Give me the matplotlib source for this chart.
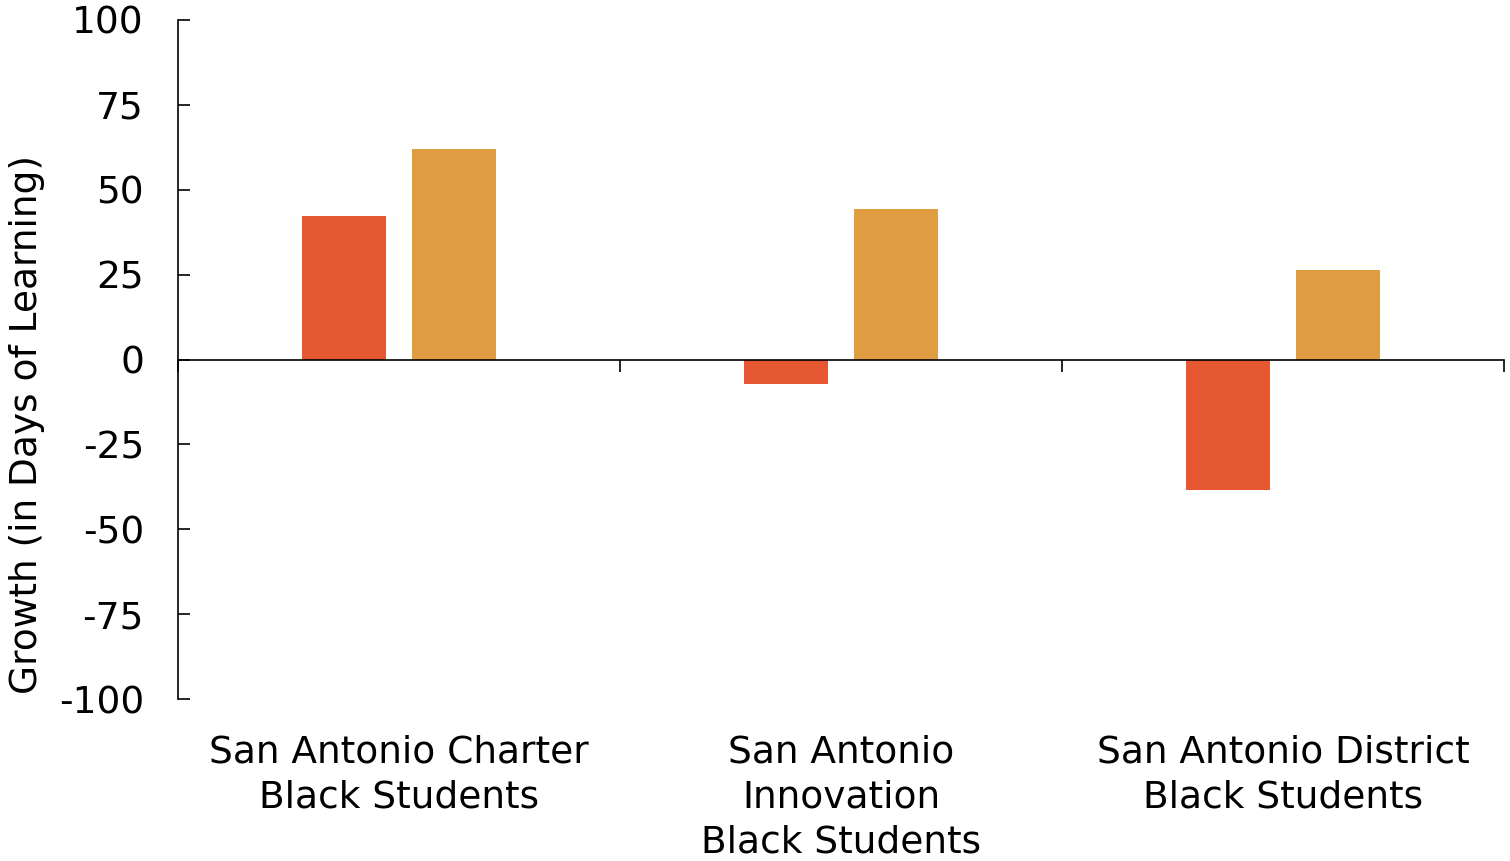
import matplotlib
matplotlib.use("Agg")
import matplotlib.pyplot as plt
import numpy as np

categories = ["San Antonio Charter\nBlack Students",
              "San Antonio\nInnovation\nBlack Students",
              "San Antonio District\nBlack Students"]
series_a = [42.4, -7.1, -38.3]
series_b = [61.9, 44.2, 26.5]
yticks = [-100, -75, -50, -25, 0, 25, 50, 75, 100]

RED = "#E55831"
ORANGE = "#E09C40"
FS = 27

plt.rcParams['font.family'] = ['DejaVu Sans']
fig = plt.figure(figsize=(15.1, 8.61), dpi=100)
ax = fig.add_axes([178/1510, 1-699/861, (1504-178)/1510, (699-20)/861])

x = np.arange(len(categories))
w = 0.19
off = 0.1235
ax.bar(x - off, series_a, width=w, color=RED, zorder=2)
ax.bar(x + off, series_b, width=w, color=ORANGE, zorder=2)

ax.set_xlim(-0.5, len(categories) - 0.5)
ax.set_ylim(-100, 100)
ax.set_yticks(yticks)
ax.set_yticklabels([str(v) for v in yticks], fontsize=FS)
ax.tick_params(axis='y', direction='in', length=8.6, width=1.2, pad=24.5)

ax.spines['top'].set_visible(False)
ax.spines['right'].set_visible(False)
ax.spines['bottom'].set_position(('data', 0))
ax.spines['bottom'].set_linewidth(1.2)
ax.spines['bottom'].set_zorder(3)
ax.spines['left'].set_linewidth(1.2)

ax.set_xticks(np.arange(-0.5, len(categories)))
ax.set_xticklabels([])
ax.tick_params(axis='x', direction='out', length=8.6, width=1.2)

for xi, lab in zip(x, categories):
    ax.text(xi, -0.053, lab, transform=ax.get_xaxis_transform(),
            ha='center', va='top', fontsize=FS, linespacing=1.32)

fig.text(27/1510, 1-425/861, "Growth (in Days of Learning)", rotation=90,
         ha='center', va='center', fontsize=FS)

fig.savefig("out.png", dpi=100)
